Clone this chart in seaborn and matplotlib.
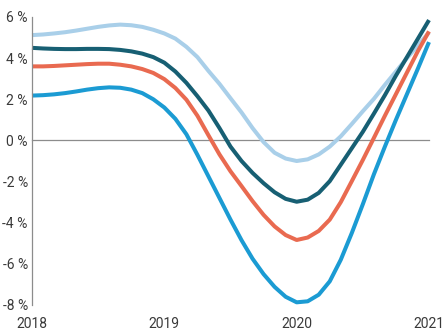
import numpy as np
import pandas as pd
import matplotlib
matplotlib.use("Agg")
import matplotlib.pyplot as plt
import seaborn as sns

# =========================================================
# DATA (monthly readings, Jan 2018 .. Jan 2021)
# =========================================================
MONTHS = np.arange(37)
YEARS = 2018 + MONTHS / 12

light_blue = [5.12, 5.15, 5.2, 5.26, 5.34, 5.43, 5.52, 5.59, 5.63, 5.6,
              5.52, 5.38, 5.2, 4.95, 4.55, 4.05, 3.38, 2.75, 2.05, 1.36,
              0.6, -0.08, -0.6, -0.88, -1.0, -0.92, -0.68, -0.3, 0.2, 0.8,
              1.42, 2.02, 2.7, 3.35, 4.0, 4.62, 5.25]
teal = [4.5, 4.47, 4.45, 4.44, 4.44, 4.45, 4.45, 4.44, 4.4, 4.33,
        4.22, 4.05, 3.78, 3.35, 2.8, 2.15, 1.45, 0.6, -0.3, -1.0,
        -1.58, -2.08, -2.52, -2.84, -2.98, -2.88, -2.55, -1.98, -1.18, -0.38,
        0.42, 1.3, 2.2, 3.15, 4.05, 4.95, 5.85]
orange = [3.6, 3.6, 3.62, 3.65, 3.68, 3.71, 3.73, 3.73, 3.68, 3.6,
          3.47, 3.28, 2.98, 2.55, 1.98, 1.2, 0.25, -0.68, -1.5, -2.22,
          -2.95, -3.62, -4.18, -4.6, -4.84, -4.72, -4.4, -3.85, -3.0, -1.98,
          -0.95, 0.12, 1.2, 2.25, 3.3, 4.35, 5.3]
blue = [2.18, 2.2, 2.24, 2.3, 2.38, 2.47, 2.54, 2.58, 2.56, 2.47,
        2.3, 2.0, 1.6, 1.05, 0.3, -0.7, -1.75, -2.8, -3.85, -4.85,
        -5.75, -6.5, -7.12, -7.6, -7.87, -7.82, -7.5, -6.85, -5.8, -4.5,
        -3.1, -1.65, -0.3, 1.0, 2.25, 3.5, 4.78]

SERIES = ["s1", "s2", "s3", "s4"]
COLORS = {"s1": "#a9cfe9", "s2": "#175f73", "s3": "#e96a50", "s4": "#1b9bd3"}

X_TICKS = [2018, 2019, 2020, 2021]
X_LABELS = ["2018", "2019", "2020", "2021"]
Y_TICKS = [-8, -6, -4, -2, 0, 2, 4, 6]
Y_LABELS = ["-8 %", "-6 %", "-4 %", "-2 %", "0 %", "2 %", "4 %", "6 %"]

df = pd.DataFrame({
    "year": np.tile(YEARS, 4),
    "value": light_blue + teal + orange + blue,
    "series": np.repeat(SERIES, len(YEARS)),
})

# =========================================================
# PLOT
# =========================================================
sns.set_theme(style="white")
plt.rcParams["font.family"] = ["Roboto", "DejaVu Sans"]

GREY = "#8c8c8c"
TEXT = "#3a3a3a"

fig = plt.figure(figsize=(4.43, 3.32), dpi=100)
ax = fig.add_axes([32 / 443, 1 - 305 / 332, 397 / 443, 288 / 332])

sns.lineplot(data=df, x="year", y="value", hue="series", palette=COLORS,
             hue_order=SERIES, linewidth=2.9, legend=False, ax=ax,
             solid_joinstyle="round", solid_capstyle="butt", clip_on=False)

ax.set_xlim(2018, 2021)
ax.set_ylim(-8, 6)
ax.set_xlabel("")
ax.set_ylabel("")

for s in ["top", "right"]:
    ax.spines[s].set_visible(False)
ax.spines["left"].set_color(GREY)
ax.spines["left"].set_linewidth(0.9)
ax.spines["bottom"].set_position(("data", 0))
ax.spines["bottom"].set_color(GREY)
ax.spines["bottom"].set_linewidth(0.9)
ax.spines["bottom"].set_zorder(0)

ax.set_yticks(Y_TICKS)
ax.set_yticklabels(Y_LABELS)
ax.tick_params(axis="y", direction="in", length=5.5, width=0.8, color=GREY,
               pad=3, labelsize=10, labelcolor=TEXT)

ax.set_xticks(X_TICKS)
ax.tick_params(axis="x", direction="out", length=4, width=0.8, color=GREY,
               labelbottom=False)

# year labels along the bottom edge
sec = ax.secondary_xaxis("bottom")
sec.set_xticks(X_TICKS)
sec.set_xticklabels(X_LABELS)
sec.tick_params(length=0, pad=9, labelsize=10, labelcolor=TEXT)
sec.spines["bottom"].set_visible(False)

fig.savefig("out.png", dpi=100)
